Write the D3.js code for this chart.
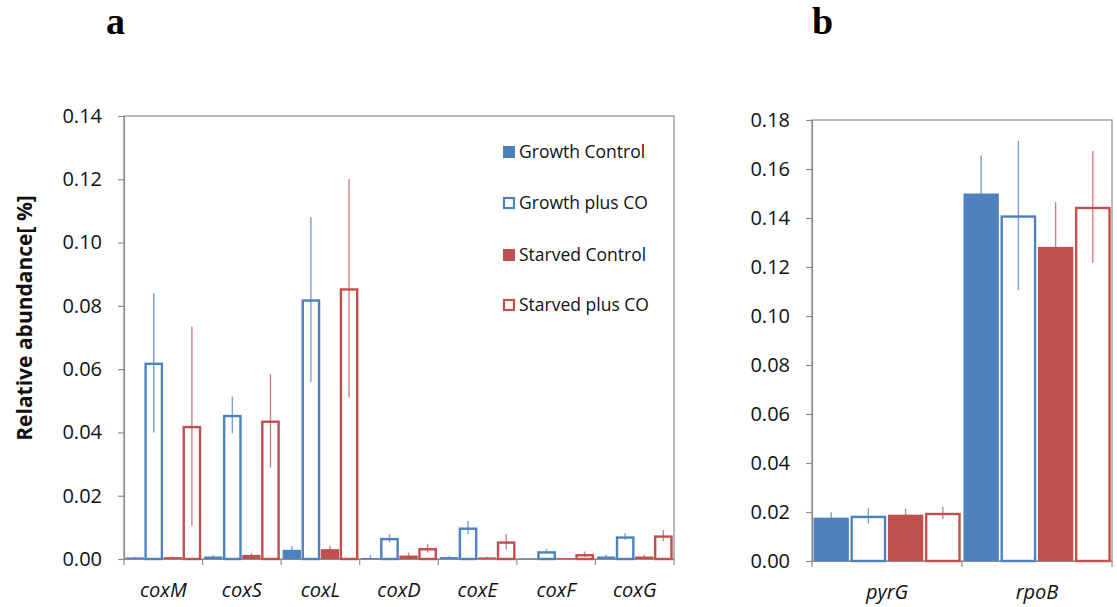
<!DOCTYPE html>
<html>
<head>
<meta charset="utf-8">
<script src="https://cdn.jsdelivr.net/npm/d3@7/dist/d3.min.js"></script>
<style>
  body { margin: 0; background: #fff; }
  svg { display: block; font-family: "Open Sans", sans-serif; }
</style>
</head>
<body>
<svg width="1117" height="607"></svg>
<script>
const seriesNames = ['Growth Control', 'Growth plus CO', 'Starved Control', 'Starved plus CO'];
const seriesColors = ['#4F81BD', '#4F81BD', '#C0504D', '#C0504D'];
const seriesFilled = [true, false, true, false];
const errColors = ['#7A9FD3', '#7A9FD3', '#D6807E', '#D6807E'];

// panel a
const categoriesA = ['coxM', 'coxS', 'coxL', 'coxD', 'coxE', 'coxF', 'coxG'];
const growthControlA = [0.0005, 0.0008, 0.0029, 0.0003, 0.0006, 0.0002, 0.0008];
const growthControlAErr = [0.0002, 0.0005, 0.0012, 0.0010, 0.0003, 0.0001, 0.0006];
const growthCOA = [0.062, 0.0455, 0.082, 0.0066, 0.0099, 0.0024, 0.0071];
const growthCOAErr = [0.022, 0.0058, 0.026, 0.0013, 0.0021, 0.0007, 0.0010];
const starvedControlA = [0.0006, 0.0013, 0.0031, 0.0011, 0.0005, 0.0003, 0.0008];
const starvedControlAErr = [0.0002, 0.0006, 0.0011, 0.0009, 0.0002, 0.0001, 0.0006];
const starvedCOA = [0.042, 0.0437, 0.0855, 0.0034, 0.0055, 0.0015, 0.0074];
const starvedCOAErr = [0.0315, 0.0148, 0.0345, 0.0014, 0.0024, 0.0009, 0.0018];
const ticksA = [0, 0.02, 0.04, 0.06, 0.08, 0.10, 0.12, 0.14];

// panel b
const categoriesB = ['pyrG', 'rpoB'];
const growthControlB = [0.0177, 0.150];
const growthControlBErr = [0.0022, 0.0155];
const growthCOB = [0.0184, 0.141];
const growthCOBErr = [0.0031, 0.0305];
const starvedControlB = [0.0189, 0.1282];
const starvedControlBErr = [0.0024, 0.0183];
const starvedCOB = [0.0196, 0.1445];
const starvedCOBErr = [0.0025, 0.0228];
const ticksB = [0, 0.02, 0.04, 0.06, 0.08, 0.10, 0.12, 0.14, 0.16, 0.18];

const axisGrey = '#8C8C8C';
const svg = d3.select('svg');

function toRows(cats, vals, errs) {
  var rows = [];
  cats.forEach((c, i) => {
    vals.forEach((v, s) => rows.push({cat: c, s: s, v: v[i], e: errs[s][i]}));
  });
  return rows;
}

function drawPanel(opt) {
  var x0 = d3.scaleBand().domain(opt.cats).range([opt.left, opt.right]);
  var x1 = d3.scaleBand().domain(d3.range(4)).range([0, x0.bandwidth()])
    .paddingInner(opt.padIn).paddingOuter(opt.padOut);
  var y = d3.scaleLinear().domain([0, opt.max]).range([opt.bottom, opt.top]);
  var g = svg.append('g');

  // plot frame
  g.append('rect')
    .attr('x', opt.left).attr('y', opt.top)
    .attr('width', opt.right - opt.left).attr('height', opt.bottom - opt.top)
    .attr('fill', 'none').attr('stroke', axisGrey).attr('stroke-width', 1.2);

  var yAxis = g.append('g')
    .attr('transform', 'translate(' + opt.left + ',0)')
    .call(d3.axisLeft(y).tickValues(opt.ticks).tickFormat(d3.format('.2f')).tickSizeOuter(0).tickSize(6).tickPadding(16));
  yAxis.select('.domain').attr('stroke', axisGrey).attr('stroke-width', 1.2);
  yAxis.selectAll('.tick line').attr('stroke', axisGrey).attr('stroke-width', 1.2);
  yAxis.selectAll('.tick text').attr('font-size', 20).attr('fill', '#111').attr('font-family', '"Open Sans", sans-serif');

  var xAxis = g.append('g')
    .attr('transform', 'translate(0,' + opt.bottom + ')')
    .call(d3.axisBottom(x0).tickSize(0).tickPadding(24));
  xAxis.select('.domain').attr('stroke', axisGrey).attr('stroke-width', 1.2);
  xAxis.selectAll('.tick text').attr('font-size', 20).attr('font-style', 'italic')
    .attr('fill', '#111').attr('font-family', '"Open Sans", sans-serif');
  // ticks at category boundaries
  g.selectAll('line.sep')
    .data(opt.cats.concat(['end']))
    .enter().append('line')
    .attr('x1', (d, i) => opt.left + i * x0.step())
    .attr('x2', (d, i) => opt.left + i * x0.step())
    .attr('y1', opt.bottom).attr('y2', opt.bottom + 6)
    .attr('stroke', axisGrey).attr('stroke-width', 1.2);

  var rows = toRows(opt.cats, opt.vals, opt.errs);

  g.selectAll('line.err')
    .data(rows)
    .enter().append('line')
    .attr('x1', d => x0(d.cat) + x1(d.s) + x1.bandwidth() / 2)
    .attr('x2', d => x0(d.cat) + x1(d.s) + x1.bandwidth() / 2)
    .attr('y1', d => y(Math.max(0, d.v - d.e)))
    .attr('y2', d => y(d.v + d.e))
    .attr('stroke', d => errColors[d.s]).attr('stroke-width', 1.4);

  g.selectAll('rect.bar')
    .data(rows)
    .enter().append('rect')
    .attr('x', d => x0(d.cat) + x1(d.s) + (seriesFilled[d.s] ? 0 : 1))
    .attr('width', d => x1.bandwidth() - (seriesFilled[d.s] ? 0 : 2))
    .attr('y', d => y(d.v) + (seriesFilled[d.s] ? 0 : 1))
    .attr('height', d => Math.max(0, y(0) - y(d.v) - (seriesFilled[d.s] ? 0 : 1)))
    .attr('fill', d => seriesFilled[d.s] ? seriesColors[d.s] : 'none')
    .attr('stroke', d => seriesFilled[d.s] ? 'none' : seriesColors[d.s])
    .attr('stroke-width', 2.4);
}

drawPanel({
  cats: categoriesA, left: 124, right: 674, top: 116, bottom: 559, max: 0.14, ticks: ticksA,
  padIn: 0.04, padOut: 0.08,
  vals: [growthControlA, growthCOA, starvedControlA, starvedCOA],
  errs: [growthControlAErr, growthCOAErr, starvedControlAErr, starvedCOAErr]
});

drawPanel({
  cats: categoriesB, left: 812, right: 1112, top: 120, bottom: 561, max: 0.18, ticks: ticksB,
  padIn: 0.05, padOut: 0.04,
  vals: [growthControlB, growthCOB, starvedControlB, starvedCOB],
  errs: [growthControlBErr, growthCOBErr, starvedControlBErr, starvedCOBErr]
});

// legend
var legend = svg.append('g').attr('transform', 'translate(503,0)');
var legendY = [152, 203, 255, 305];
seriesNames.forEach((name, i) => {
  var row = legend.append('g').attr('transform', 'translate(0,' + legendY[i] + ')');
  if (seriesFilled[i]) {
    row.append('rect').attr('x', 0).attr('y', -6).attr('width', 12).attr('height', 12)
      .attr('fill', seriesColors[i]);
  } else {
    row.append('rect').attr('x', 1).attr('y', -5).attr('width', 10).attr('height', 10)
      .attr('fill', 'none').attr('stroke', seriesColors[i]).attr('stroke-width', 2.2);
  }
  row.append('text').attr('x', 16).attr('y', 6)
    .attr('font-size', 17.5).attr('fill', '#111').text(name);
});

// y label
svg.append('text')
  .attr('transform', 'translate(32,318) rotate(-90)')
  .attr('text-anchor', 'middle')
  .attr('font-size', 21).attr('font-weight', 'bold').attr('fill', '#111')
  .text('Relative abundance[ %]');

// panel letters
svg.selectAll('text.letter')
  .data([{t: 'a', x: 106}, {t: 'b', x: 812}])
  .enter().append('text')
  .attr('x', d => d.x).attr('y', 34)
  .attr('font-family', '"Liberation Serif", serif')
  .attr('font-weight', 'bold').attr('font-size', 38)
  .attr('fill', '#000')
  .text(d => d.t);
</script>
</body>
</html>
